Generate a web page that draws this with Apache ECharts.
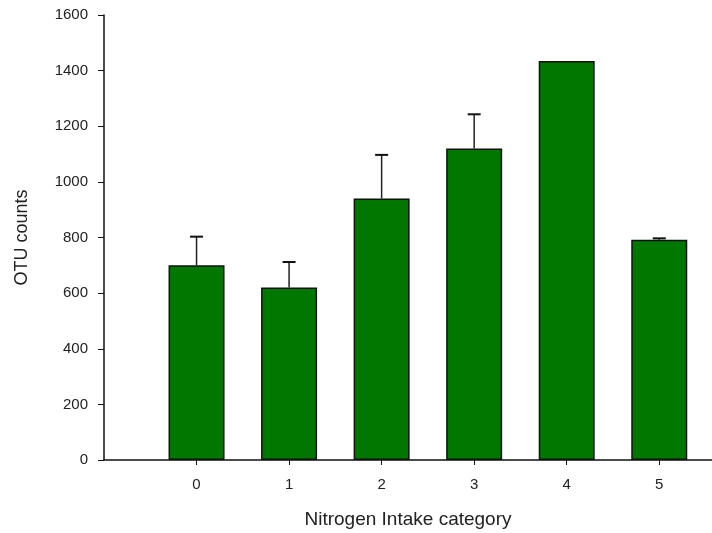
<!DOCTYPE html>
<html>
<head>
<meta charset="utf-8">
<script src="https://cdn.jsdelivr.net/npm/echarts@6/dist/echarts.min.js"></script>
<style>
  html, body { margin: 0; padding: 0; background: #fff; }
  #chart { width: 712px; height: 533px; }
</style>
</head>
<body>
<div id="chart"></div>
<script>
// nitrogen intake categories and OTU counts (mean, error)
const categories = [0, 1, 2, 3, 4, 5];
const otuMean = [700, 620, 940, 1120, 1435, 792];
const otuErr = [103, 92, 157, 123, 0, 5];

const font = "Liberation Sans, Arial, sans-serif";
const chart = echarts.init(document.getElementById("chart"));

chart.setOption({
  animation: false,
  grid: {
    left: 104,
    right: 0,
    top: 15,
    bottom: 73,
    outerBoundsMode: "none",
    containLabel: false
  },
  xAxis: {
    type: "value",
    min: -1,
    max: 5.57,
    interval: 1,
    name: "Nitrogen Intake category",
    nameLocation: "middle",
    nameGap: 50,
    nameTextStyle: { fontFamily: font, fontSize: 19, color: "#222" },
    splitLine: { show: false },
    axisLine: { show: true, onZero: false, lineStyle: { color: "#111", width: 1.5 } },
    axisTick: {
      show: true,
      length: 5,
      customValues: categories,
      lineStyle: { color: "#111" }
    },
    axisLabel: {
      margin: 17,
      fontFamily: font,
      fontSize: 15,
      color: "#222",
      customValues: categories
    }
  },
  yAxis: {
    type: "value",
    min: 0,
    max: 1600,
    interval: 200,
    name: "OTU counts",
    nameLocation: "middle",
    nameGap: 73,
    nameTextStyle: { fontFamily: font, fontSize: 18, color: "#222" },
    splitLine: { show: false },
    axisLine: { show: true, onZero: false, lineStyle: { color: "#111", width: 1.5 } },
    axisTick: { show: true, length: 6, lineStyle: { color: "#111" } },
    axisLabel: {
      margin: 16,
      fontFamily: font,
      fontSize: 15,
      color: "#222",
      formatter: v => String(v)
    }
  },
  series: [
    {
      type: "bar",
      barWidth: 56,
      itemStyle: {
        color: "#007800",
        borderColor: "#111",
        borderWidth: 1.5
      },
      data: categories.map((c, i) => [c, otuMean[i]]),
      z: 2
    },
    {
      type: "custom",
      z: 3,
      data: categories.map((c, i) => [c, otuMean[i], otuMean[i] + otuErr[i]]),
      renderItem: function(params, api) {
        if (api.value(2) - api.value(1) <= 0) return;
        const base = api.coord([api.value(0), api.value(1)]);
        const top = api.coord([api.value(0), api.value(2)]);
        const half = 6.5;
        return {
          type: "group",
          children: [
            {
              type: "line",
              shape: { x1: base[0], y1: base[1], x2: top[0], y2: top[1] },
              style: { stroke: "#222", lineWidth: 1.5 }
            },
            {
              type: "line",
              shape: { x1: top[0] - half, y1: top[1], x2: top[0] + half, y2: top[1] },
              style: { stroke: "#111", lineWidth: 2 }
            }
          ]
        };
      }
    }
  ]
});
</script>
</body>
</html>
